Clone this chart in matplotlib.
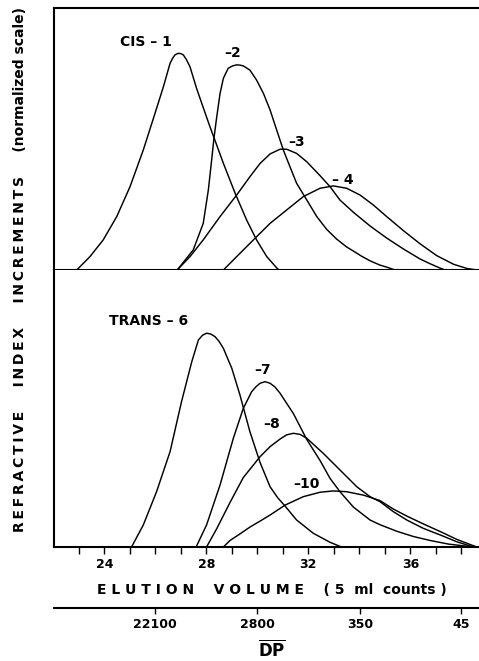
import numpy as np
import matplotlib
matplotlib.use("Agg")
import matplotlib.pyplot as plt
from matplotlib.ticker import NullLocator

plt.rcParams['font.family'] = 'DejaVu Sans'
plt.rcParams['font.weight'] = 'bold'
plt.rcParams['mathtext.fontset'] = 'dejavusans'

## ---- GPC traces: elution volume (5 ml counts) vs normalized RI increment ---- ##
cis1_v = [22.92, 23.44, 23.96, 24.49, 25.01, 25.53, 25.99, 26.32, 26.58, 26.68, 26.77, 26.90,
          27.00, 27.10, 27.22, 27.36, 27.62, 27.88, 28.15, 28.34, 28.67, 29.13, 29.58, 29.97,
          30.37, 30.76, 30.85]
cis1_y = [0.0, 0.051, 0.115, 0.204, 0.318, 0.458, 0.598, 0.700, 0.789, 0.808, 0.821, 0.827,
          0.826, 0.821, 0.803, 0.776, 0.693, 0.620, 0.545, 0.495, 0.407, 0.293, 0.191, 0.115,
          0.051, 0.008, 0.0]

cis2_v = [26.86, 27.49, 27.88, 28.08, 28.21, 28.30, 28.41, 28.54, 28.67, 28.86, 29.03, 29.19,
          29.32, 29.45, 29.71, 29.97, 30.24, 30.50, 30.76, 31.02, 31.28, 31.54, 31.94, 32.33,
          32.72, 33.11, 33.50, 33.77, 34.10, 34.42, 34.80, 35.07, 35.40]
cis2_y = [0.0, 0.077, 0.178, 0.305, 0.420, 0.503, 0.585, 0.674, 0.732, 0.770, 0.779, 0.783,
          0.782, 0.779, 0.763, 0.725, 0.674, 0.611, 0.534, 0.458, 0.394, 0.331, 0.267, 0.204,
          0.155, 0.118, 0.088, 0.072, 0.052, 0.035, 0.019, 0.011, 0.0]

cis3_v = [26.86, 27.36, 27.88, 28.54, 29.19, 29.71, 30.11, 30.50, 30.89, 31.15, 31.54, 31.94,
          32.46, 32.85, 33.24, 33.77, 34.42, 35.07, 35.73, 36.38, 36.77, 37.17, 37.36]
cis3_y = [0.0, 0.051, 0.115, 0.204, 0.286, 0.356, 0.407, 0.443, 0.461, 0.461, 0.445, 0.413,
          0.360, 0.318, 0.267, 0.220, 0.168, 0.122, 0.080, 0.042, 0.024, 0.007, 0.0]

cis4_v = [28.67, 29.19, 29.91, 30.50, 31.15, 31.80, 32.46, 32.98, 33.50, 34.03, 34.55, 35.07,
          35.73, 36.38, 37.03, 37.69, 38.21, 38.60]
cis4_y = [0.0, 0.051, 0.121, 0.178, 0.229, 0.280, 0.312, 0.321, 0.312, 0.286, 0.248, 0.204,
          0.150, 0.100, 0.055, 0.022, 0.006, 0.0]

trans6_v = [25.07, 25.53, 26.05, 26.58, 27.03, 27.43, 27.69, 27.85, 28.01, 28.17, 28.34, 28.50,
            28.67, 29.00, 29.32, 29.71, 30.11, 30.50, 30.80, 31.09, 31.54, 32.20, 32.85, 33.30]
trans6_y = [0.0, 0.084, 0.211, 0.364, 0.555, 0.707, 0.790, 0.808, 0.816, 0.813, 0.803, 0.785,
            0.758, 0.682, 0.580, 0.440, 0.322, 0.230, 0.188, 0.156, 0.103, 0.052, 0.018, 0.0]

trans7_v = [27.60, 28.01, 28.54, 29.06, 29.45, 29.78, 29.95, 30.11, 30.30, 30.50, 30.70, 30.89,
            31.41, 31.94, 32.46, 32.85, 33.24, 33.77, 34.42, 34.81, 35.47, 36.12, 36.77, 37.50,
            38.21, 38.60]
trans7_y = [0.0, 0.084, 0.237, 0.415, 0.529, 0.593, 0.612, 0.625, 0.631, 0.625, 0.610, 0.587,
            0.510, 0.410, 0.330, 0.262, 0.211, 0.152, 0.103, 0.085, 0.060, 0.040, 0.025, 0.011,
            0.003, 0.0]

trans8_v = [28.01, 28.41, 28.93, 29.45, 30.11, 30.50, 30.89, 31.15, 31.41, 31.67, 31.94, 32.59,
            33.24, 33.90, 34.42, 34.81, 35.33, 35.86, 36.51, 37.17, 37.82, 38.47]
trans8_y = [0.0, 0.070, 0.170, 0.265, 0.345, 0.383, 0.412, 0.428, 0.434, 0.430, 0.415, 0.357,
            0.294, 0.230, 0.192, 0.173, 0.135, 0.103, 0.071, 0.046, 0.020, 0.0]

trans10_v = [28.67, 28.93, 29.32, 29.71, 30.11, 30.50, 31.09, 31.80, 32.46, 32.98, 33.50, 34.16,
             34.81, 35.33, 35.86, 36.51, 37.17, 37.82, 38.60]
trans10_y = [0.0, 0.025, 0.050, 0.076, 0.099, 0.122, 0.160, 0.192, 0.209, 0.214, 0.211, 0.198,
             0.177, 0.145, 0.118, 0.088, 0.059, 0.029, 0.0]

## peak labels (text, volume, height)
top_labels = [("CIS – 1", 25.65, 0.870), ("–2", 29.03, 0.828),
              ("–3", 31.52, 0.490), ("– 4", 33.34, 0.344)]
bot_labels = [("TRANS – 6", 25.75, 0.864), ("–7", 30.20, 0.676),
              ("–8", 30.56, 0.469), ("–10", 31.93, 0.240)]

## DP calibration: log10(DP) linear in elution volume
dp_ticks = [22100, 2800, 350, 45]
dp_ref_v = 26.0
dp_ref = 22100.0
dp_slope = 0.2243   # decades per count

def vol_to_dp(v):
    return 10.0 ** (np.log10(dp_ref) - dp_slope * (np.asarray(v, float) - dp_ref_v))

def dp_to_vol(dp):
    dp = np.clip(np.asarray(dp, float), 1e-6, None)
    return dp_ref_v + (np.log10(dp_ref) - np.log10(dp)) / dp_slope

## ------------------------------- ##
W, H = 479.0, 661.0
fig = plt.figure(figsize=(W / 100, H / 100), dpi=100)
ax_top = fig.add_axes([54 / W, (H - 270) / H, (W - 54) / W, (270 - 8) / H])
ax_bot = fig.add_axes([54 / W, (H - 547) / H, (W - 54) / W, (547 - 270) / H])

xlo, xhi = 22.03, 38.69
lw = 1.05

for v, y in [(cis1_v, cis1_y), (cis2_v, cis2_y), (cis3_v, cis3_y), (cis4_v, cis4_y)]:
    ax_top.plot(v, y, color='black', lw=lw, solid_joinstyle='round')
for v, y in [(trans6_v, trans6_y), (trans7_v, trans7_y), (trans8_v, trans8_y), (trans10_v, trans10_y)]:
    ax_bot.plot(v, y, color='black', lw=lw, solid_joinstyle='round')

for txt, v, y in top_labels:
    ax_top.text(v, y, txt, ha='center', va='center', fontsize=10)
for txt, v, y in bot_labels:
    ax_bot.text(v, y, txt, ha='center', va='center', fontsize=10)

ax_top.set_ylim(0, 1.0)
ax_bot.set_ylim(0, 277 / 262)

for ax in (ax_top, ax_bot):
    ax.set_xlim(xlo, xhi)
    ax.set_yticks([])
    ax.spines['right'].set_visible(False)
    for s in ('left', 'bottom', 'top'):
        ax.spines[s].set_linewidth(1.5)
    ax.set_xticks([24, 28, 32, 36])
    ax.set_xticks([23, 25, 26, 27, 29, 30, 31, 33, 34, 35, 37, 38], minor=True)
    ax.tick_params(axis='x', which='both', direction='out', length=5, width=1.0)
ax_bot.spines['top'].set_visible(False)
ax_top.tick_params(axis='x', labelbottom=False)
ax_bot.tick_params(axis='x', which='major', labelsize=9, pad=3)

## DP scale below the volume axis
sec = ax_bot.secondary_xaxis(-61 / 277, functions=(vol_to_dp, dp_to_vol))
sec.set_xticks(dp_ticks)
sec.set_xticklabels([str(d) for d in dp_ticks])
sec.xaxis.set_minor_locator(NullLocator())
sec.tick_params(axis='x', direction='out', length=4, width=1.0, labelsize=9, pad=3)
sec.spines['bottom'].set_linewidth(1.5)

def spaced(s, gap):
    return gap.join(s)

fig.text(272 / W, 1 - 590 / H,
         "    ".join([spaced("ELUTION", " "), spaced("VOLUME", " ")]) + "    ( 5  ml  counts )",
         ha='center', va='center', fontsize=10)
fig.text(272 / W, 1 - 650 / H, r'$\overline{\mathbf{DP}}$', ha='center', va='center', fontsize=12)

ylab = "     ".join([spaced("REFRACTIVE", "\u2009"), spaced("INDEX", "\u2009"),
                     spaced("INCREMENTS", "\u2009")]) + "     (normalized scale)"
fig.text(20 / W, 1 - 269 / H, ylab, rotation=90, ha='center', va='center', fontsize=10)

fig.savefig("out.png", dpi=100)
